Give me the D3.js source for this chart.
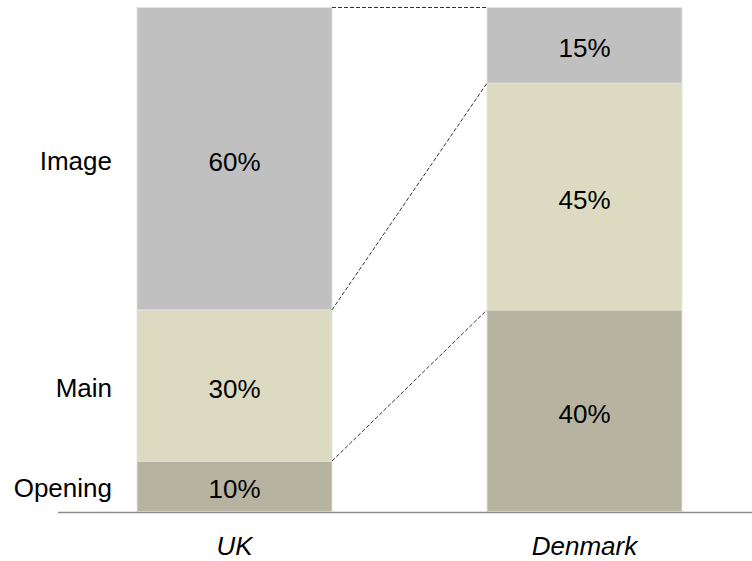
<!DOCTYPE html>
<html>
<head>
<meta charset="utf-8">
<script src="https://cdn.jsdelivr.net/npm/d3@7"></script>
<style>
  body { margin: 0; background: #fff; }
  svg { display: block; font-family: Arial, 'Liberation Sans', sans-serif; }
</style>
</head>
<body>
<svg id="chart" width="752" height="561"></svg>
<script>
const countries = ['UK', 'Denmark'];
const parts = ['Opening', 'Main', 'Image'];
const ukShare = [10, 30, 60];
const denmarkShare = [40, 45, 15];

const colors = {Opening: '#b6b4a0', Main: '#dcdbc2', Image: '#c0c0c0'};

const svg = d3.select('#chart');

// bars at 137-332 and 487-682
const x = d3.scaleBand()
            .domain(countries)
            .range([59.5, 759.5])
            .paddingInner(155 / 350)
            .paddingOuter(77.5 / 350);

const y = d3.scaleLinear()
            .domain([0, 100])
            .range([511.5, 7.5]);

const rows = countries.map((c, i) => {
  const vals = i === 0 ? ukShare : denmarkShare;
  let acc = 0;
  return parts.map((p, j) => {
    const d = {country: c, part: p, value: vals[j], y0: acc, y1: acc + vals[j]};
    acc += vals[j];
    return d;
  });
});

const fs = '26px';

// bars + value labels
const g = svg.append('g');
rows.forEach(stack => {
  g.selectAll(null)
    .data(stack)
    .enter()
    .append('rect')
      .attr('x', d => x(d.country))
      .attr('y', d => y(d.y1))
      .attr('width', x.bandwidth())
      .attr('height', d => y(d.y0) - y(d.y1))
      .style('fill', d => colors[d.part])
      .style('stroke', '#e4e4e4')
      .style('stroke-width', 0.8);

  g.selectAll(null)
    .data(stack)
    .enter()
    .append('text')
      .attr('x', d => x(d.country) + x.bandwidth() / 2)
      .attr('y', d => y((d.y0 + d.y1) / 2) + 12)
      .attr('text-anchor', 'middle')
      .text(d => d.value + '%')
      .style('font-size', fs)
      .style('fill', '#000');
});

// connector lines between cumulative boundaries
const uk = rows[0], dk = rows[1];
const links = uk.map((d, i) => [d.y1, dk[i].y1]);
svg.selectAll('line.link')
  .data(links)
  .enter()
  .append('line')
    .attr('class', 'link')
    .attr('x1', x('UK') + x.bandwidth())
    .attr('x2', x('Denmark'))
    .attr('y1', d => y(d[0]))
    .attr('y2', d => y(d[1]))
    .style('stroke', '#333')
    .style('stroke-width', 1)
    .style('stroke-dasharray', '4,2');

// segment labels on the left
svg.selectAll('text.part')
  .data(uk)
  .enter()
  .append('text')
    .attr('class', 'part')
    .attr('x', 112)
    .attr('y', d => y((d.y0 + d.y1) / 2) + 11)
    .attr('text-anchor', 'end')
    .text(d => d.part)
    .style('font-size', fs)
    .style('fill', '#000');

// baseline
svg.append('line')
  .attr('x1', 58)
  .attr('x2', 752)
  .attr('y1', 512.5)
  .attr('y2', 512.5)
  .style('stroke', '#8c8c8c')
  .style('stroke-width', 1.6);

// category labels
svg.selectAll('text.cat')
  .data(countries)
  .enter()
  .append('text')
    .attr('class', 'cat')
    .attr('x', d => x(d) + x.bandwidth() / 2)
    .attr('y', 555)
    .attr('text-anchor', 'middle')
    .text(d => d)
    .style('font-size', fs)
    .style('font-style', 'italic')
    .style('fill', '#000');
</script>
</body>
</html>
